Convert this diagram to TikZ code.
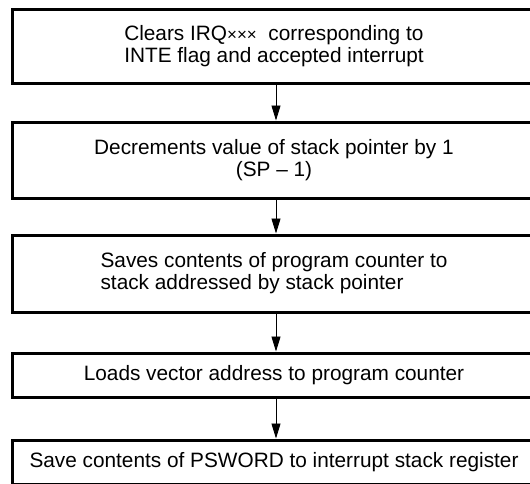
\documentclass[tikz,border=0pt]{standalone}
\usepackage{fontspec}
\setmainfont{Liberation Sans}
\usetikzlibrary{arrows.meta}
\tikzset{
  box/.style={draw=black, line width=3pt, rectangle, minimum width=523pt, inner sep=0pt, align=center,
    font=\fontsize{20.8}{22}\selectfont},
  arr/.style={draw=black, line width=0.9pt, -{Triangle[length=15pt,width=9pt]}}
}
\begin{document}
\begin{tikzpicture}[x=1pt,y=-1pt]
\useasboundingbox (0,0) rectangle (530,483);
\clip (0,0) rectangle (530,483);
\fill[white] (0,0) rectangle (530,483);
\node[box, minimum height=74pt, align=left] (b1) at (274,46)
  {Clears IRQ{\fontsize{17}{17}\selectfont ×××}\ \ corresponding to\\INTE flag and accepted interrupt};
\node[box, minimum height=76pt] (b2) at (274,160)
  {Decrements value of stack pointer by 1\\(SP – 1)};
\node[box, minimum height=77pt, align=left] (b3) at (274,273.5)
  {Saves contents of program counter to\\stack addressed by stack pointer};
\node[box, minimum height=44pt] (b4) at (274,375)
  {Loads vector address to program counter};
\node[box, minimum height=44pt] (b5) at (274,462)
  {Save contents of PSWORD to interrupt stack register};
\draw[arr] ([xshift=2pt]b1.south) -- ([xshift=2pt]b2.north);
\draw[arr] ([xshift=2pt]b2.south) -- ([xshift=2pt]b3.north);
\draw[arr] ([xshift=2pt]b3.south) -- ([xshift=2pt]b4.north);
\draw[arr] ([xshift=2pt]b4.south) -- ([xshift=2pt]b5.north);
\end{tikzpicture}
\end{document}
